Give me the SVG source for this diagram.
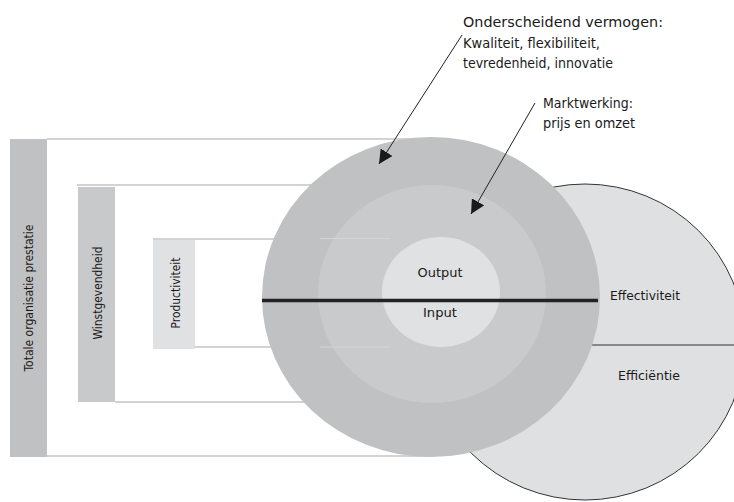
<svg xmlns="http://www.w3.org/2000/svg" width="734" height="502" viewBox="0 0 734 502">
  <defs>
    <marker id="arrow" viewBox="0 0 10 10" refX="10" refY="5" markerWidth="14" markerHeight="14" markerUnits="userSpaceOnUse" orient="auto">
      <path d="M0,0 L10,5 L0,10 z" fill="#1a1a1a"/>
    </marker>
    <style>
      .t { font-family: "DejaVu Sans Condensed", "Liberation Sans", Arial, sans-serif; fill: #1a1a1a; }
      .frame { stroke: #c4c4c6; stroke-width: 1.5; fill: none; }
      .conn { stroke: #222; stroke-width: 1; fill: none; marker-end: url(#arrow); }
    </style>
  </defs>
  <rect width="734" height="502" fill="#ffffff"/>

  <g id="right-circle">
    <ellipse cx="585" cy="342" rx="160" ry="158" fill="#dfe0e2" stroke="#333" stroke-width="1"/>
    <line x1="580" y1="345" x2="745" y2="345" stroke="#333" stroke-width="1.2"/>
    <text class="t" x="645" y="300" font-size="12.5" text-anchor="middle" textLength="70" lengthAdjust="spacingAndGlyphs">Effectiviteit</text>
    <text class="t" x="649" y="380" font-size="12.5" text-anchor="middle" textLength="62" lengthAdjust="spacingAndGlyphs">Efficiëntie</text>
  </g>

  <g id="totale">
    <polyline class="frame" points="420,139 47,139"/>
    <polyline class="frame" points="47,456 430,456"/>
    <rect x="10" y="139" width="37" height="318" fill="#c0c1c3"/>
    <text class="t" transform="translate(33,298) rotate(-90)" font-size="12.5" text-anchor="middle" textLength="147" lengthAdjust="spacingAndGlyphs">Totale organisatie prestatie</text>
  </g>

  <g id="winstgevendheid">
    <polyline class="frame" points="77,185 330,185"/>
    <polyline class="frame" points="115,402 330,402"/>
    <rect x="78" y="187" width="37" height="215" fill="#c8c9cb"/>
    <text class="t" transform="translate(102,293) rotate(-90)" font-size="12.5" text-anchor="middle" textLength="93" lengthAdjust="spacingAndGlyphs">Winstgevendheid</text>
  </g>

  <g id="productiviteit">
    <polyline class="frame" points="153,239 300,239"/>
    <polyline class="frame" points="195,347 300,347"/>
    <rect x="153" y="240" width="42" height="109" fill="#e0e1e3"/>
    <text class="t" transform="translate(180,293) rotate(-90)" font-size="12.5" text-anchor="middle" textLength="71" lengthAdjust="spacingAndGlyphs">Productiviteit</text>
  </g>

  <g id="onderscheidend-vermogen">
    <ellipse cx="431" cy="297" rx="169" ry="160" fill="#c0c1c3"/>
  </g>

  <g id="marktwerking">
    <ellipse cx="432" cy="294" rx="114" ry="109" fill="#c9cacc"/>
    <line x1="320" y1="238.5" x2="390" y2="238.5" stroke="#d3d4d6" stroke-width="1"/>
    <line x1="320" y1="347" x2="390" y2="347" stroke="#d3d4d6" stroke-width="1"/>
  </g>

  <g id="output-input">
    <ellipse cx="441" cy="292" rx="59" ry="55" fill="#e0e1e3"/>
    <line x1="262" y1="300.5" x2="598" y2="300.5" stroke="#222" stroke-width="3.5"/>
    <text class="t" x="440" y="277" font-size="13" text-anchor="middle" textLength="45" lengthAdjust="spacingAndGlyphs">Output</text>
    <text class="t" x="440" y="317" font-size="13" text-anchor="middle" textLength="34" lengthAdjust="spacingAndGlyphs">Input</text>
  </g>

  <g id="labels">
    <text class="t" x="463" y="27" font-size="14" textLength="200" lengthAdjust="spacingAndGlyphs">Onderscheidend vermogen:</text>
    <text class="t" x="463" y="48" font-size="14" textLength="137" lengthAdjust="spacingAndGlyphs">Kwaliteit, flexibiliteit,</text>
    <text class="t" x="463" y="68" font-size="14" textLength="150" lengthAdjust="spacingAndGlyphs">tevredenheid, innovatie</text>
    <text class="t" x="543" y="108" font-size="14" textLength="90" lengthAdjust="spacingAndGlyphs">Marktwerking:</text>
    <text class="t" x="543" y="128" font-size="14" textLength="92" lengthAdjust="spacingAndGlyphs">prijs en omzet</text>
  </g>

  <g id="connectors">
    <line class="conn" x1="462" y1="35" x2="379" y2="164"/>
    <line class="conn" x1="535" y1="103" x2="471" y2="214"/>
  </g>
</svg>
